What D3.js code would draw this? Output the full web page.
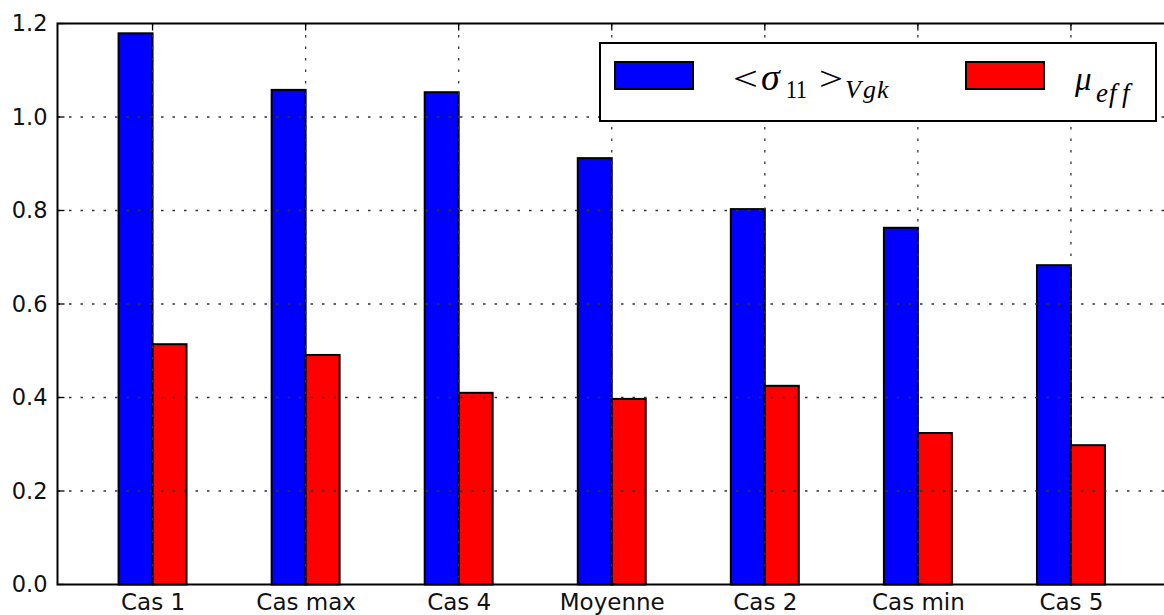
<!DOCTYPE html>
<html><head><meta charset="utf-8">
<script src="https://cdn.jsdelivr.net/npm/d3@7"></script>
<style>body{margin:0;background:#fff;overflow:hidden}</style></head><body>
<svg id="c" width="1164" height="615"></svg>
<script>
const categories = ["Cas 1","Cas max","Cas 4","Moyenne","Cas 2","Cas min","Cas 5"];
const sigmaValues = [1.179,1.058,1.053,0.912,0.803,0.763,0.683];
const muValues = [0.514,0.491,0.410,0.397,0.425,0.324,0.298];
const yTicks = [0,0.2,0.4,0.6,0.8,1.0,1.2];
const yTickLabels = ["0.0","0.2","0.4","0.6","0.8","1.0","1.2"];

const svg = d3.select("#c");
const L = 57.5, T = 23.5, B = 584.5, R = 1166;
const barW = 0.222;
const x = d3.scaleLinear().domain([-0.621, 6.621]).range([L, R]);
const y = d3.scaleLinear().domain([0, 1.2]).range([B, T]);

// bars
const g = svg.append("g");
g.selectAll("rect.s").data(sigmaValues).join("rect")
  .attr("x", (d,i)=>x(i-barW)).attr("width", x(barW)-x(0))
  .attr("y", d=>y(d)).attr("height", d=>y(0)-y(d))
  .attr("fill","#0000ff").attr("stroke","#000").attr("stroke-width",2);
g.selectAll("rect.m").data(muValues).join("rect")
  .attr("x", (d,i)=>x(i)).attr("width", x(barW)-x(0))
  .attr("y", d=>y(d)).attr("height", d=>y(0)-y(d))
  .attr("fill","#ff0000").attr("stroke","#000").attr("stroke-width",2);

// grid
const grid = svg.append("g").attr("stroke","#333").attr("stroke-width",1.3).attr("stroke-dasharray","2.5,9");
grid.selectAll("line.h").data(yTicks.filter(t=>t>0 && t<1.2)).join("line")
  .attr("x1",L).attr("x2",R).attr("y1",d=>y(d)).attr("y2",d=>y(d));
grid.selectAll("line.v").data(categories).join("line")
  .attr("x1",(d,i)=>x(i)).attr("x2",(d,i)=>x(i)).attr("y1",T).attr("y2",B);

// ticks (inside)
const tk = svg.append("g").attr("stroke","#000").attr("stroke-width",1.3);
yTicks.forEach(t=>{
  tk.append("line").attr("x1",L).attr("x2",L+7).attr("y1",y(t)).attr("y2",y(t));
});
categories.forEach((c,i)=>{
  tk.append("line").attr("x1",x(i)).attr("x2",x(i)).attr("y1",T).attr("y2",T+7);
  tk.append("line").attr("x1",x(i)).attr("x2",x(i)).attr("y1",B).attr("y2",B-7);
});

// frame
svg.append("rect").attr("x",L).attr("y",T).attr("width",R-L).attr("height",B-T)
  .attr("fill","none").attr("stroke","#000").attr("stroke-width",2);

// axis labels
const yAxis = d3.axisLeft(y).tickValues(yTicks).tickFormat((d,i)=>yTickLabels[i]).tickSize(0).tickPadding(10);
const ya = svg.append("g").attr("transform",`translate(${L},0)`).call(yAxis);
ya.select(".domain").remove();
ya.selectAll("text").attr("font-family","DejaVu Sans").attr("font-size","22.5px").attr("fill","#111");

const xAxis = d3.axisBottom(x).tickValues(d3.range(categories.length)).tickFormat(i=>categories[i]).tickSize(0).tickPadding(9);
const xa = svg.append("g").attr("transform",`translate(0,${B})`).call(xAxis);
xa.select(".domain").remove();
xa.selectAll("text").attr("font-family","DejaVu Sans").attr("font-size","23px").attr("fill","#111");

// legend
const lg = svg.append("g");
lg.append("rect").attr("x",600).attr("y",43).attr("width",556).attr("height",78)
  .attr("fill","#fff").attr("stroke","#000").attr("stroke-width",2);
lg.append("rect").attr("x",615).attr("y",62).attr("width",78).attr("height",27)
  .attr("fill","#0000ff").attr("stroke","#000").attr("stroke-width",2);
lg.append("rect").attr("x",966).attr("y",62).attr("width",78).attr("height",27)
  .attr("fill","#ff0000").attr("stroke","#000").attr("stroke-width",2);
const parts = [
  {t:"<", x:733, y:90, s:34, it:false, w:25},
  {t:"σ", x:761, y:90, s:38, it:true},
  {t:"11", x:786, y:98, s:26, it:false, w:21},
  {t:">", x:819, y:90, s:34, it:false, w:24},
  {t:"V", x:845, y:98, s:26, it:true},
  {t:"g", x:863, y:98, s:26, it:true},
  {t:"k", x:877, y:98, s:26, it:true},
  {t:"μ", x:1075, y:90, s:33, it:true},
  {t:"e", x:1096, y:102, s:27, it:true},
  {t:"f", x:1109, y:102, s:27, it:true},
  {t:"f", x:1122, y:102, s:27, it:true}
];
const tx = lg.selectAll("text").data(parts).join("text")
  .attr("x",d=>d.x).attr("y",d=>d.y).text(d=>d.t)
  .attr("font-family","Liberation Serif")
  .attr("font-size",d=>d.s+"px").attr("font-style",d=>d.it?"italic":"normal").attr("fill","#000");
tx.filter(d=>d.w).attr("textLength",d=>d.w).attr("lengthAdjust","spacingAndGlyphs");
</script></body></html>
